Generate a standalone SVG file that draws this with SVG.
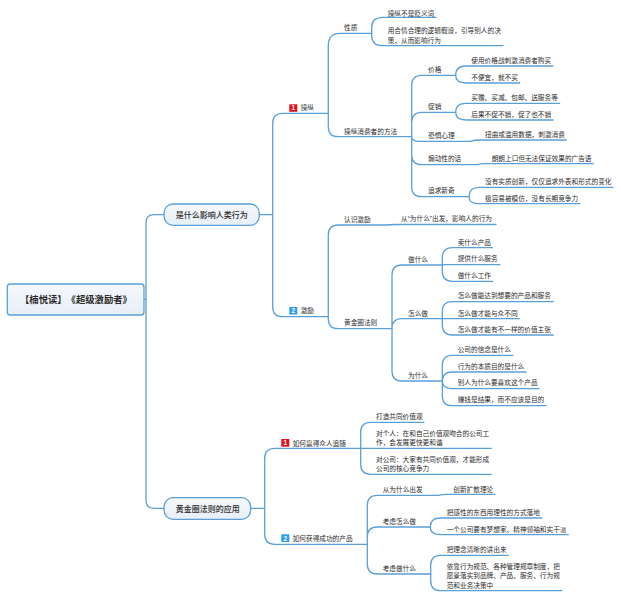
<svg xmlns="http://www.w3.org/2000/svg" width="621" height="599" viewBox="0 0 621 599">
<style>
text{font-family:"Liberation Sans","Noto Sans CJK SC",sans-serif;fill:#2b2b2b;font-size:6.67px}
.c{fill:none;stroke:#5b9fd8;stroke-width:1.3;stroke-linecap:round}
.n{fill:url(#g);stroke:#5b9fd8;stroke-width:1.3}
.l{font-size:8px;font-weight:500}
.r{font-size:9.33px;font-weight:700}
.bt{fill:#fff;font-size:6.5px;font-weight:700;text-anchor:middle}
.red{fill:#e3101a}.blue{fill:#2a9cf0}
</style>
<defs><linearGradient id="g" x1="0" y1="0" x2="0" y2="1"><stop offset="0" stop-color="#f5f8fc"/><stop offset="1" stop-color="#e7eff7"/></linearGradient></defs>
<g id="connectors">
<path class="c" d="M144 299.3H146M146 299.3V222.7Q146 214.7 154 214.7H164M146 299.3V500.3Q146 508.3 154 508.3H164"/>
<path class="c" d="M259.3 214.7H272.7M272.7 214.7V123.3Q272.7 113.3 282.7 113.3H328.3M272.7 214.7V306.7Q272.7 316.7 282.7 316.7H328.3"/>
<path class="c" d="M328.3 113.3V45.3Q328.3 33.3 340.3 33.3H371.7M328.3 113.3V126.7Q328.3 136.7 338.3 136.7H411.7"/>
<path class="c" d="M371.7 33.3V27.3Q371.7 17.3 383 17.3H436M371.7 33.3V35.7Q371.7 45.7 383 45.7H503"/>
<path class="c" d="M411.7 136.7V85.3Q411.7 75.3 421.7 75.3H455.7M411.7 136.7V122.3Q411.7 112.3 421.7 112.3H455.7M411.7 136.7Q411.7 141.3 420 141.3H470Q475 140 480 140H566.3M411.7 136.7V154.7Q411.7 164.7 421.7 164.7H477Q480 163.7 485 163.7H593.3M411.7 136.7V186.7Q411.7 196.7 421.7 196.7H469"/>
<path class="c" d="M455.7 75.3Q455.7 66 466 66H553M455.7 75.3Q455.7 83 466 83H519.7M455.7 112.3Q455.7 103.3 466 103.3H559.7M455.7 112.3Q455.7 120 466 120H553"/>
<path class="c" d="M469 196.7Q469 187.3 479 187.3H613M469 196.7Q469 203.7 479 203.7H579.7"/>
<path class="c" d="M328.3 316.7V235Q328.3 225 338.3 225H385Q390 224.5 395 224.5H496M328.3 316.7V318.7Q328.3 328.7 338.3 328.7H392"/>
<path class="c" d="M392 328.7V275Q392 265 402 265H442.3M392 328.7Q392 318.7 402 318.7H442.3M392 328.7V371Q392 381 402 381H442.3"/>
<path class="c" d="M442.3 265V257.7Q442.3 247.7 452.3 247.7H492.3M442.3 264.7H500M442.3 265V271.3Q442.3 281.3 452.3 281.3H492.7"/>
<path class="c" d="M442.3 318.7V311.7Q442.3 301.7 452.3 301.7H553.3M442.3 318.7H519.3M442.3 318.7V325Q442.3 335 452.3 335H553.3"/>
<path class="c" d="M442.3 381V365.3Q442.3 355.3 452.3 355.3H513M442.3 381Q442.3 372 452.3 372H526M442.3 381Q442.3 388.7 452.3 388.7H539.3M442.3 381V395.7Q442.3 405.7 452.3 405.7H546"/>
<path class="c" d="M250.7 508.3H264.7M264.7 508.3V458.3Q264.7 448.3 274.7 448.3H360.7M264.7 508.3V534.3Q264.7 544.3 274.7 544.3H367.3"/>
<path class="c" d="M360.7 448.3V432.3Q360.7 422.3 370.7 422.3H424M360.7 448.3H491.3M360.7 448.3V464.3Q360.7 474.3 370.7 474.3H491.3"/>
<path class="c" d="M367.3 544.3V505.3Q367.3 495.3 377.3 495.3H438.3Q442 494.3 447 494.3H495M367.3 544.3V537Q367.3 527 377.3 527H430.3M367.3 544.3V564Q367.3 574 377.3 574H430.7"/>
<path class="c" d="M430.3 527Q430.3 518 440.3 518H541.7M430.3 527Q430.3 534.7 440.3 534.7H568.3"/>
<path class="c" d="M430.7 574V565.3Q430.7 555.3 440.7 555.3H508.3M430.7 574V580.7Q430.7 590.7 440.7 590.7H561.7"/>
</g>
<g id="root"><rect class="n" x="7.3" y="284" width="136.7" height="31" rx="3"/><text class="r" y="303.4"><tspan x="20">【楠悦读】</tspan><tspan x="66.6">《超级激励者》</tspan></text></g>
<g id="topic-1"><rect class="n" x="164" y="204" width="95.3" height="21.3" rx="9"/><text class="l" x="175.7" y="217.9">是什么影响人类行为</text></g>
<g id="topic-2"><rect class="n" x="164" y="497.7" width="86.7" height="21.6" rx="9"/><text class="l" x="175.7" y="511.6">黄金圈法则的应用</text></g>
<g id="n-manip"><rect class="red" x="289.3" y="104.3" width="8" height="7.5"/><text class="bt" x="293.3" y="110.4">1</text><text x="300.7" y="110.1">操纵</text></g>
<g id="n-incent"><rect class="blue" x="289.3" y="307" width="8" height="7.5"/><text class="bt" x="293.3" y="313.1">2</text><text x="300.7" y="313.4">激励</text></g>
<g id="n-a1"><text x="344" y="30.4">性质</text></g>
<g id="n-a2"><text x="387.7" y="16.4">操纵不是贬义词</text></g>
<g id="n-a3"><text x="387.7" y="33.4">用合情合理的逻辑假设，引导别人的决</text><text x="387.7" y="42.7">策，从而影响行为</text></g>
<g id="n-b"><text x="344" y="133.7">操纵消费者的方法</text></g>
<g id="n-b1"><text x="428" y="71.7">价格</text></g>
<g id="n-b11"><text x="471.3" y="63.1">使用价格战刺激消费者购买</text></g>
<g id="n-b12"><text x="471.3" y="80.4">不便宜，就不买</text></g>
<g id="n-b2"><text x="428" y="108.7">促销</text></g>
<g id="n-b21"><text x="471.3" y="100.1">买赠、买减、包邮、送服务等</text></g>
<g id="n-b22"><text x="471.3" y="117.1">后果不促不销，促了也不销</text></g>
<g id="n-b3"><text x="428" y="137.7">恐惧心理</text></g>
<g id="n-b31"><text x="485" y="137.4">扭曲或滥用数据，刺激消费</text></g>
<g id="n-b4"><text x="428" y="161.4">煽动性的话</text></g>
<g id="n-b41"><text x="491.7" y="161.1">朗朗上口但无法保证效果的广告语</text></g>
<g id="n-b5"><text x="428" y="193.1">追求新奇</text></g>
<g id="n-b51"><text x="485" y="184.4">没有实质创新，仅仅追求外表和形式的变化</text></g>
<g id="n-b52"><text x="485" y="201.1">极容易被模仿，没有长期竞争力</text></g>
<g id="n-c"><text x="344" y="222.4">认识激励</text></g>
<g id="n-c1"><text x="401" y="221.4">从“为什么”出发，影响人的行为</text></g>
<g id="n-d"><text x="344" y="325.1">黄金圈法则</text></g>
<g id="n-d1"><text x="408" y="261.7">做什么</text></g>
<g id="n-d11"><text x="457.7" y="244.7">卖什么产品</text></g>
<g id="n-d12"><text x="457.7" y="261.4">提供什么服务</text></g>
<g id="n-d13"><text x="457.7" y="277.7">做什么工作</text></g>
<g id="n-d2"><text x="408" y="315.7">怎么做</text></g>
<g id="n-d21"><text x="457.7" y="298.4">怎么做能达到想要的产品和服务</text></g>
<g id="n-d22"><text x="457.7" y="315.7">怎么做才能与众不同</text></g>
<g id="n-d23"><text x="457.7" y="331.7">怎么做才能有不一样的价值主张</text></g>
<g id="n-d3"><text x="408" y="378.1">为什么</text></g>
<g id="n-d31"><text x="457.7" y="352.4">公司的信念是什么</text></g>
<g id="n-d32"><text x="457.7" y="369.1">行为的本质目的是什么</text></g>
<g id="n-d33"><text x="457.7" y="385.4">别人为什么要喜欢这个产品</text></g>
<g id="n-d34"><text x="457.7" y="402.4">赚钱是结果，而不应该是目的</text></g>
<g id="n-e"><rect class="red" x="281.3" y="439" width="8" height="7.7"/><text class="bt" x="285.3" y="445.2">1</text><text x="292.7" y="445.7">如何赢得众人追随</text></g>
<g id="n-e1"><text x="376" y="419.1">打造共同价值观</text></g>
<g id="n-e2"><text x="376" y="435.7">对个人：在和自己价值观吻合的公司工</text><text x="376" y="445.1">作，会发展更快更和谐</text></g>
<g id="n-e3"><text x="376" y="461.7">对公司：大家有共同价值观，才能形成</text><text x="376" y="471.4">公司的核心竞争力</text></g>
<g id="n-f"><rect class="blue" x="281.3" y="534.3" width="8" height="7.7"/><text class="bt" x="285.3" y="540.5">2</text><text x="292.7" y="541.1">如何获得成功的产品</text></g>
<g id="n-f1"><text x="382.7" y="492.4">从为什么出发</text></g>
<g id="n-f11"><text x="453.3" y="492.1">创新扩散理论</text></g>
<g id="n-f2"><text x="382.7" y="524.1">考虑怎么做</text></g>
<g id="n-f21"><text x="446.7" y="515.1">把感性的东西用理性的方式落地</text></g>
<g id="n-f22"><text x="446.7" y="531.7">一个公司要有梦想家、精神领袖和实干派</text></g>
<g id="n-f3"><text x="382.7" y="571.1">考虑做什么</text></g>
<g id="n-f31"><text x="446.7" y="552.4">把理念清晰的讲出来</text></g>
<g id="n-f32"><text x="446.7" y="568.7">依靠行为规范、各种管理规章制度，把</text><text x="446.7" y="578.4">愿景落实到品牌、产品、服务、行为规</text><text x="446.7" y="587.7">范和业务决策中</text></g>
</svg>
